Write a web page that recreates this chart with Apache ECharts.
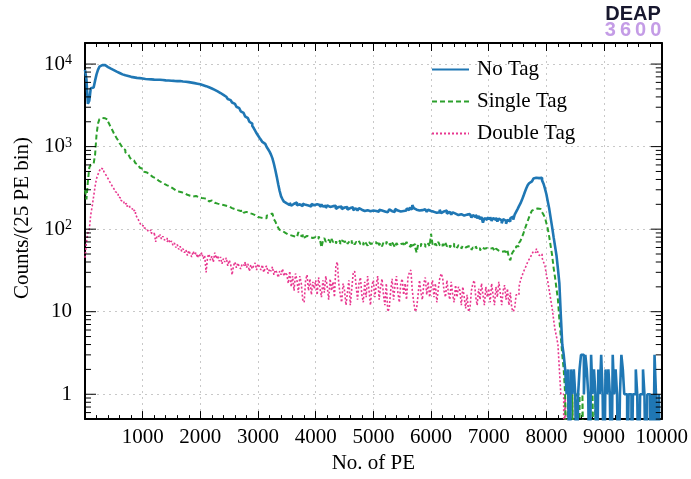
<!DOCTYPE html>
<html><head><meta charset="utf-8">
<script src="https://cdn.jsdelivr.net/npm/echarts@6/dist/echarts.min.js"></script>
<style>html,body{margin:0;padding:0;background:#fff}#c{width:691px;height:479px}</style>
</head><body><div id="c"></div>
<script>
// ---- data: counts per 25 PE bin, bins start at 0 PE ----
const binWidth = 25;
const seriesNames = ['No Tag', 'Single Tag', 'Double Tag'];
const noTag = [
 8500,6500,3300,3600,5100,5200,5400,6300,7500,8500,9300,9700,9900,9700,9450,9200,9000,8800,8600,8450,
 8250,8100,7900,7800,7650,7500,7400,7300,7200,7150,7050,7000,6950,6900,6850,6800,6780,6750,6700,6680,
 6650,6600,6620,6560,6580,6520,6540,6480,6500,6470,6420,6460,6400,6420,6380,6350,6380,6320,6340,6290,
 6300,6250,6270,6220,6200,6230,6170,6150,6100,6120,6060,6040,5990,5960,5920,5880,5850,5790,5740,5700,
 5620,5550,5480,5400,5320,5230,5150,5060,4960,4870,4770,4670,4570,4460,4350,4240,4130,4020,3900,3780,
 3660,3540,3420,3290,3160,3040,2920,2800,2680,2560,2440,2330,2210,2100,2000,1900,1790,1680,1560,1450,
 1360,1280,1210,1140,1080,1030,990,930,870,800,720,620,520,430,350,290,250,230,215,205,
 200,196,208,192,203,198,210,194,200,205,190,203,197,208,193,199,188,202,195,198,
 200,190,196,185,199,188,192,180,194,186,178,190,184,192,176,186,180,188,175,183,
 178,185,172,180,176,184,170,178,174,168,180,172,176,166,174,170,178,165,172,168,
 174,166,170,162,172,168,176,164,170,160,168,174,165,170,162,176,168,172,164,170,
 166,174,168,178,170,182,174,196,180,172,178,168,176,170,165,174,168,162,172,166,
 170,162,168,158,166,160,172,156,164,160,168,154,162,158,150,160,154,162,148,156,
 152,160,146,154,150,142,152,146,138,148,140,150,136,144,132,140,120,136,130,138,
 132,140,126,136,130,138,124,134,128,118,132,126,116,130,124,136,142,130,150,162,
 175,190,205,225,250,280,310,340,360,380,400,410,420,430,415,435,420,390,355,310,
 265,215,175,135,105,80,62,48,33,22,9,4,3,2,1,2,0,2,1,2,
 1,0,1,2,3,3,1,3,2,1,0,3,1,2,1,0,2,1,3,1,
 0,2,1,2,1,0,3,1,2,1,0,1,3,2,1,1,0,1,1,0,
 1,1,2,1,0,1,1,2,1,0,1,1,0,1,0,3,1,0,1,0
];
const singleTag = [
 300,230,380,560,600,620,650,800,1400,1900,2150,2220,2230,2200,2180,2120,2000,1850,1700,1580,
 1450,1350,1260,1190,1100,1040,960,910,850,810,770,745,700,680,650,630,600,585,555,540,
 520,495,485,462,458,438,430,410,414,392,388,372,370,354,354,340,340,326,328,313,
 312,306,296,299,286,281,280,271,274,264,261,266,254,258,249,246,252,240,244,237,
 238,232,236,225,229,221,216,223,212,209,215,204,208,200,205,196,200,192,197,188,
 185,180,186,175,178,170,173,166,163,168,158,162,154,157,150,153,146,148,141,140,
 142,138,144,136,140,136,146,150,158,155,150,132,124,112,104,98,95,92,90,88,
 86,90,84,88,82,86,80,84,92,85,81,86,79,83,87,80,84,78,82,80,
 80,76,82,74,60,72,78,70,75,72,68,76,70,73,67,74,71,66,73,70,
 68,72,66,70,74,67,71,65,70,68,72,66,69,64,71,67,63,70,66,68,
 65,70,66,72,64,68,62,69,66,71,64,67,63,69,65,60,68,64,66,63,
 67,62,66,70,64,61,68,63,66,60,52,65,62,67,63,66,61,64,68,62,
 88,66,62,67,63,70,64,61,66,63,68,62,65,60,64,67,61,63,59,64,
 62,58,63,60,57,62,59,61,56,60,58,62,57,59,55,60,58,56,59,57,
 58,55,59,56,54,58,55,57,53,56,54,57,52,55,45,42,50,54,57,62,
 62,68,72,80,88,100,112,125,140,155,168,175,180,178,182,176,168,160,150,138,
 118,100,80,62,48,34,26,19,14,8,5,3,2,1,0,1,0,0,1,0,
 0,1,1,0,0,1,0,0,0,0,0,0,1,0,1,0,0,0,0,0,
 0,0,0,0,0,0,0,0,0,1,0,0,0,0,0,0,1,0,0,0,
 0,0,0,0,0,0,0,0,0,0,0,0,0,0,0,0,0,0,0,0
];
const doubleTag = [
 45,70,90,100,150,190,250,330,410,460,510,550,530,500,470,440,410,380,355,330,
 310,285,272,245,238,222,218,200,205,190,195,182,176,166,170,150,140,130,120,110,
 110,104,100,96,93,98,90,86,92,70,84,80,86,76,82,74,78,70,75,68,
 72,64,68,60,65,57,62,54,58,52,56,48,55,50,46,54,49,52,45,50,
 47,52,44,48,30,46,50,42,47,40,52,44,48,41,46,38,44,40,45,36,
 42,38,28,36,40,34,39,35,33,38,36,40,34,38,31,37,33,36,39,32,
 38,35,32,37,30,34,36,29,33,31,35,28,32,30,26,31,28,33,27,30,
 28,22,31,20,27,18,29,24,17,27,22,14,13,24,28,18,25,16,23,19,
 24,16,26,19,15,24,17,27,20,14,25,18,23,15,36,40,22,16,13,22,
 18,12,17,24,12,19,29,31,21,14,22,26,16,13,23,15,27,18,12,21,
 24,15,21,27,14,20,25,16,12,22,10,11,18,25,14,21,27,17,13,22,
 25,16,22,14,26,30,32,18,13,10,11,16,24,17,14,22,26,16,23,15,
 20,24,15,22,13,19,25,29,26,18,15,24,17,14,23,16,13,21,15,20,
 18,12,20,15,11,16,10,11,18,22,24,15,12,19,14,22,16,12,20,15,
 19,13,22,16,12,20,15,23,17,12,18,21,14,19,12,17,11,10,11,16,
 16,20,24,27,30,33,36,40,43,46,50,54,52,58,53,48,50,45,40,36,
 28,23,18,14,11,8,6,5,4,2,1,1,0,1,0,1,0,0,1,0,
 0,0,0,0,0,0,0,0,0,0,0,0,0,0,0,0,0,0,0,0,
 0,0,0,0,0,0,0,0,0,0,0,0,0,0,0,0,0,0,0,0,
 0,0,0,0,0,0,0,0,0,0,0,0,0,0,0,0,0,0,0,0
];
const xMin = 0, xMax = 10000, xStep = 1000;
const yMin = 0.5, yMax = 18000;
const xTitle = 'No. of PE';
const yTitle = 'Counts/(25 PE bin)';

// ---- build ----
const ZERO_FLOOR = 0.05; // empty bins drawn below the log-axis floor (clipped)
function toSteps(vals) {
  const d = vals.map((v, i) => [i * binWidth, v > 0 ? v : ZERO_FLOOR]);
  const last = vals[vals.length - 1];
  d.push([vals.length * binWidth, last > 0 ? last : ZERO_FLOOR]);
  return d;
}
const serif = '"Liberation Serif","Times New Roman",serif';
const yTicks = [];
for (let e = -1; e <= 4; e++) for (let m = 1; m <= 9; m++) {
  const v = m * Math.pow(10, e);
  if (v >= yMin && v <= yMax) yTicks.push([m === 1 ? 1 : 0, v]);
}
function yLabel(v) {
  const e = Math.round(Math.log10(v));
  if (Math.abs(v - Math.pow(10, e)) > 1e-6 * v) return '';
  if (e === 0) return '1';
  if (e === 1) return '10';
  return '{b|10}{s|' + e + '}';
}
const chart = echarts.init(document.getElementById('c'), null, {renderer: 'canvas'});
const axisLineStyle = {color: '#000', width: 2};
chart.setOption({
  animation: false,
  backgroundColor: '#fff',
  grid: {left: 85, top: 43, right: 29, bottom: 58, containLabel: false},
  legend: {
    data: seriesNames, orient: 'vertical', left: 431, top: 59, padding: 0,
    itemWidth: 37, itemHeight: 12, itemGap: 11,
    itemStyle: {opacity: 0},
    textStyle: {fontFamily: serif, fontSize: 21, color: '#000', lineHeight: 20, padding: [0, 0, 0, 3]}
  },
  xAxis: [{
    type: 'value', min: xMin, max: xMax, interval: xStep, position: 'bottom',
    axisLine: {show: true, onZero: false, lineStyle: axisLineStyle},
    axisTick: {show: true, inside: true, length: 8, lineStyle: {color: '#000', width: 1}},
    minorTick: {show: true, splitNumber: 5, length: 4, lineStyle: {color: '#000', width: 1}},
    axisLabel: {margin: 8, fontFamily: serif, fontSize: 21, color: '#000',
      formatter: v => v === 0 ? '' : String(v)},
    splitLine: {show: true, lineStyle: {type: [2, 4], color: '#c8c8c8', width: 1}},
    name: xTitle, nameLocation: 'middle', nameGap: 32,
    nameTextStyle: {fontFamily: serif, fontSize: 21, color: '#000'}
  }, {
    type: 'value', min: xMin, max: xMax, interval: xStep, position: 'top',
    axisLine: {show: true, onZero: false, lineStyle: axisLineStyle},
    axisTick: {show: true, inside: true, length: 8, lineStyle: {color: '#000', width: 1}},
    minorTick: {show: true, splitNumber: 5, length: 4, lineStyle: {color: '#000', width: 1}},
    axisLabel: {show: false}, splitLine: {show: false}
  }],
  yAxis: [{
    type: 'log', logBase: 10, min: yMin, max: yMax, position: 'left',
    axisLine: {show: true, onZero: false, lineStyle: axisLineStyle},
    axisTick: {show: false},
    axisLabel: {margin: 13, fontFamily: serif, fontSize: 21, color: '#000', formatter: yLabel,
      rich: {
        b: {fontFamily: serif, fontSize: 21, color: '#000', verticalAlign: 'bottom', lineHeight: 21},
        s: {fontFamily: serif, fontSize: 14, color: '#000', verticalAlign: 'top', lineHeight: 14, padding: [0, 0, 18, 0]}
      }},
    splitLine: {show: true, lineStyle: {type: [2, 4], color: '#c8c8c8', width: 1}}
  }, {
    type: 'log', logBase: 10, min: yMin, max: yMax, position: 'right',
    axisLine: {show: true, onZero: false, lineStyle: axisLineStyle},
    axisTick: {show: false}, axisLabel: {show: false}, splitLine: {show: false}
  }],
  graphic: [
    {type: 'text', x: 22, y: 218, rotation: Math.PI / 2, silent: true,
      style: {text: yTitle, font: '21px ' + serif, fill: '#000', textAlign: 'center', textVerticalAlign: 'middle'}},
    {type: 'text', x: 633, y: 14, silent: true,
      style: {text: 'DEAP', font: 'bold 20px "Liberation Sans","DejaVu Sans",sans-serif', fill: '#17172e', textAlign: 'center', textVerticalAlign: 'middle'}},
    {type: 'text', x: 633, y: 30, silent: true,
      style: {text: '3\u20096\u20090\u20090', font: 'bold 20px "Liberation Sans","DejaVu Sans",sans-serif', fill: '#c49ce6', textAlign: 'center', textVerticalAlign: 'middle'}}
  ],
  series: [
    {type: 'custom', xAxisIndex: 0, yAxisIndex: 0, data: yTicks, encode: {x: 0, y: 1}, silent: true, z: 5,
      renderItem: (params, api) => {
        const v = api.value(1), L = api.value(0) === 1 ? 11 : 6;
        const p = api.coord([xMin, v]), q = api.coord([xMax, v]);
        return {type: 'group', children: [
          {type: 'line', shape: {x1: p[0], y1: p[1], x2: p[0] + L, y2: p[1]}, style: {stroke: '#000', lineWidth: 1}},
          {type: 'line', shape: {x1: q[0], y1: q[1], x2: q[0] - L, y2: q[1]}, style: {stroke: '#000', lineWidth: 1}}
        ]};
      }},
    {type: 'line', name: 'Double Tag', data: toSteps(doubleTag), step: 'end', symbol: 'none', clip: true,
      lineStyle: {color: '#e8378f', width: 1.6, type: [2, 2]}, itemStyle: {color: '#e8378f'}, z: 2},
    {type: 'line', name: 'Single Tag', data: toSteps(singleTag), step: 'end', symbol: 'none', clip: true,
      lineStyle: {color: '#2ca02c', width: 2, type: [5, 3]}, itemStyle: {color: '#2ca02c'}, z: 3},
    {type: 'line', name: 'No Tag', data: toSteps(noTag), step: 'end', symbol: 'none', clip: true,
      lineStyle: {color: '#1f77b4', width: 2.6}, itemStyle: {color: '#1f77b4'}, z: 4}
  ]
});
</script>
</body></html>
